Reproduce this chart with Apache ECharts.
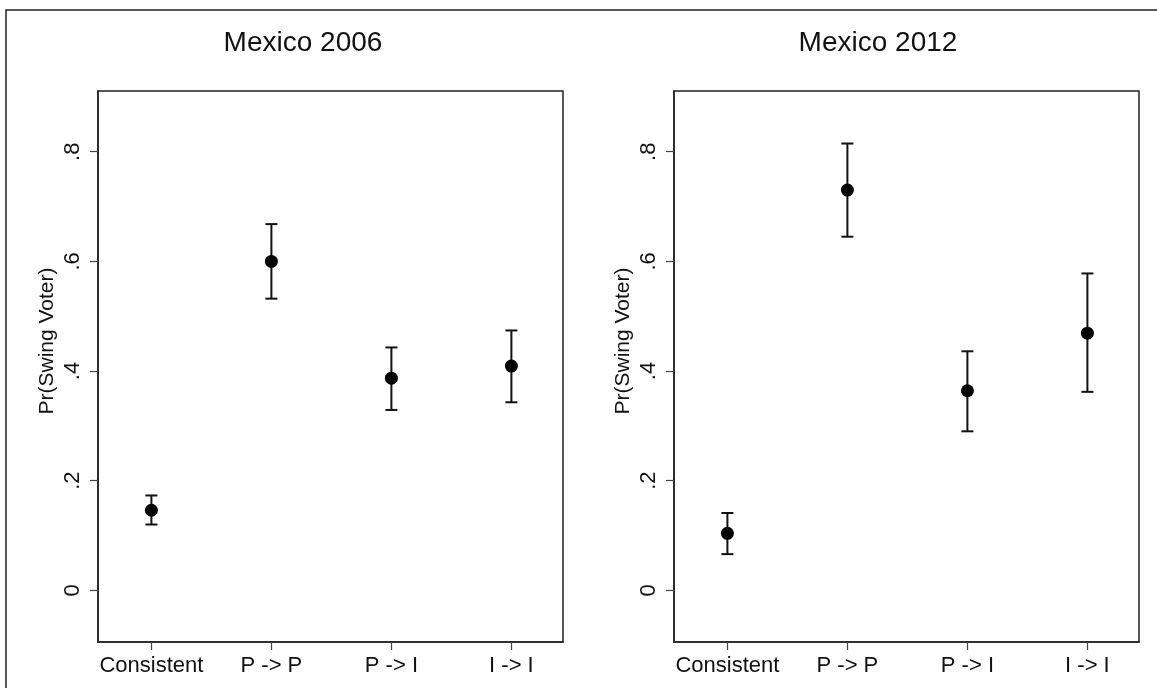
<!DOCTYPE html>
<html>
<head>
<meta charset="utf-8">
<script src="https://cdn.jsdelivr.net/npm/echarts@6/dist/echarts.min.js"></script>
<style>
  html, body { margin: 0; padding: 0; background: #fff; }
  #chart { width: 1157px; height: 688px; }
</style>
</head>
<body>
<div id="chart"></div>
<script>
// data
const categories = ['Consistent', 'P -> P', 'P -> I', 'I -> I'];
const catPos = [1, 2, 3, 4];
const yTicks = [0, 0.2, 0.4, 0.6, 0.8];

const est2006 = [0.146, 0.600, 0.387, 0.409];
const lo2006 = [0.120, 0.532, 0.329, 0.343];
const hi2006 = [0.173, 0.668, 0.443, 0.474];

const est2012 = [0.104, 0.730, 0.364, 0.469];
const lo2012 = [0.066, 0.645, 0.290, 0.362];
const hi2012 = [0.141, 0.815, 0.436, 0.578];

const FONT = "'Liberation Sans', Arial, Helvetica, sans-serif";
const INK = '#111';

const chart = echarts.init(document.getElementById('chart'));

function xAxisFor(idx) {
    return {
        gridIndex: idx,
        type: 'value',
        min: 0.555,
        max: 4.43,
        splitLine: { show: false },
        axisLine: { show: true, onZero: false, lineStyle: { color: '#222', width: 1.5 } },
        axisTick: { show: true, length: 8, customValues: catPos, lineStyle: { color: '#444', width: 1.2 } },
        axisLabel: {
            customValues: catPos,
            margin: 13,
            fontFamily: FONT,
            fontSize: 22,
            color: INK,
            formatter: v => categories[Math.round(v) - 1] || ''
        }
    };
}

function yAxisFor(idx) {
    return {
        gridIndex: idx,
        type: 'value',
        min: -0.0943,
        max: 0.9108,
        splitLine: { show: false },
        axisLine: { show: true, lineStyle: { color: '#222', width: 1.5 } },
        axisTick: { show: true, length: 8, customValues: yTicks, lineStyle: { color: '#444', width: 1.2 } },
        axisLabel: {
            customValues: yTicks,
            rotate: 90,
            margin: 14,
            fontFamily: FONT,
            fontSize: 22,
            color: INK,
            formatter: v => v === 0 ? '0' : String(+v.toFixed(1)).replace('0.', '.')
        }
    };
}

function errorBars(idx, lo, hi) {
    return {
        type: 'custom',
        xAxisIndex: idx,
        yAxisIndex: idx,
        data: catPos.map((x, i) => [x, lo[i], hi[i]]),
        renderItem: (params, api) => {
            const top = api.coord([api.value(0), api.value(2)]);
            const bot = api.coord([api.value(0), api.value(1)]);
            const half = 6;
            const style = { stroke: '#111', lineWidth: 2 };
            return {
                type: 'group',
                children: [
                    { type: 'line', shape: { x1: top[0], y1: top[1], x2: bot[0], y2: bot[1] }, style },
                    { type: 'line', shape: { x1: top[0] - half, y1: top[1], x2: top[0] + half, y2: top[1] }, style },
                    { type: 'line', shape: { x1: bot[0] - half, y1: bot[1], x2: bot[0] + half, y2: bot[1] }, style }
                ]
            };
        },
        z: 2
    };
}

function points(idx, est) {
    return {
        type: 'scatter',
        xAxisIndex: idx,
        yAxisIndex: idx,
        symbol: 'circle',
        symbolSize: 13,
        itemStyle: { color: '#000', opacity: 1 },
        data: catPos.map((x, i) => [x, est[i]]),
        z: 3
    };
}

function yTitle(x) {
    return {
        type: 'text', x: x, y: 341, rotation: Math.PI / 2, silent: true,
        style: { text: 'Pr(Swing Voter)', font: '21px ' + FONT, fill: INK,
                 textAlign: 'center', textVerticalAlign: 'middle' }
    };
}

const option = {
    animation: false,
    backgroundColor: '#fff',
    title: [
        { text: 'Mexico 2006', left: 298, top: 24, textAlign: 'center',
          textStyle: { fontFamily: FONT, fontSize: 28, fontWeight: 'normal', color: INK } },
        { text: 'Mexico 2012', left: 873, top: 24, textAlign: 'center',
          textStyle: { fontFamily: FONT, fontSize: 28, fontWeight: 'normal', color: INK } }
    ],
    graphic: [
        { type: 'rect', shape: { x: 6, y: 10, width: 1170, height: 700 },
          style: { fill: 'none', stroke: '#222', lineWidth: 1.5 }, silent: true },
        yTitle(47),
        yTitle(623)
    ],
    grid: [
        { left: 98, top: 91, width: 465, height: 551, show: true, borderColor: '#222', borderWidth: 1.5 },
        { left: 674, top: 91, width: 465, height: 551, show: true, borderColor: '#222', borderWidth: 1.5 }
    ],
    xAxis: [xAxisFor(0), xAxisFor(1)],
    yAxis: [yAxisFor(0), yAxisFor(1)],
    series: [
        errorBars(0, lo2006, hi2006),
        points(0, est2006),
        errorBars(1, lo2012, hi2012),
        points(1, est2012)
    ]
};

chart.setOption(option);
</script>
</body>
</html>
